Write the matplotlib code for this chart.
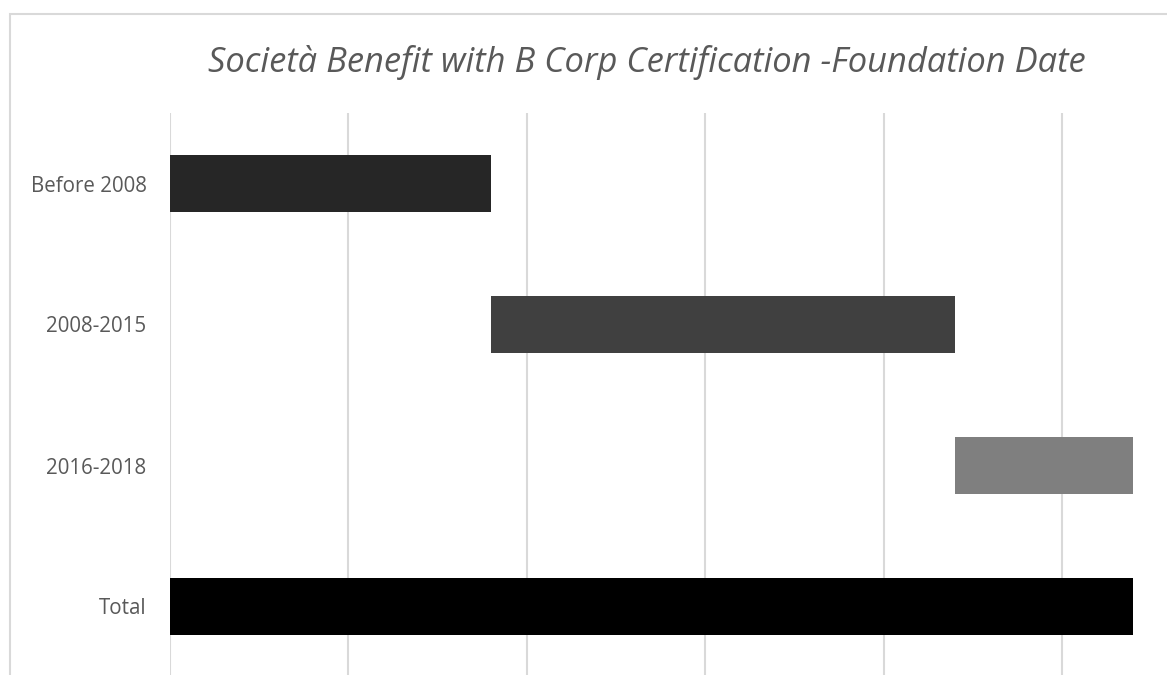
import numpy as np
import matplotlib.pyplot as plt
from matplotlib.patches import Rectangle

# companies by foundation period, with the running total
periods = ["Before 2008", "2008-2015", "2016-2018"]
counts = [18, 26, 10]
colors = ["#262626", "#404040", "#7f7f7f"]
total_label = "Total"
total_color = "#000000"

# waterfall: each period starts where the previous one ended
starts = list(np.concatenate([[0], np.cumsum(counts)[:-1]]))
labels = periods + [total_label]
widths = counts + [sum(counts)]
lefts = starts + [0]
bar_colors = colors + [total_color]

W, H = 1167, 675
fig = plt.figure(figsize=(W / 100, H / 100), dpi=100)

# outer chart frame
fig.patches.append(Rectangle((10 / W, -0.1), 1.2, 1 - 14 / H + 0.1,
                             transform=fig.transFigure, fill=False,
                             edgecolor="#d9d9d9", linewidth=1.5))

unit = 178.4 / 10  # pixels per count
ax = fig.add_axes([170 / W, -2 / H, 60 * unit / W, 564 / H])

y = np.arange(len(labels))
ax.barh(y, widths, left=lefts, height=0.4, color=bar_colors, zorder=3)

ax.set_xlim(0, 60)
ax.set_ylim(len(labels) - 0.5, -0.5)
ax.set_xticks(np.arange(0, 61, 10))
ax.set_xticklabels([])
ax.set_yticks(y)
ax.set_yticklabels(labels, fontsize=14.8, color="#595959", family="Open Sans")
ax.tick_params(axis="both", length=0, pad=17)
ax.grid(axis="x", color="#d9d9d9", linewidth=1.5, zorder=0)
for s in ax.spines.values():
    s.set_visible(False)

fig.text(647 / W, 1 - 62 / H, "Società Benefit with B Corp Certification -Foundation Date",
         ha="center", va="center", fontsize=24.8, style="italic",
         color="#595959", family="Open Sans")

fig.savefig("out.png", dpi=100, facecolor="white")
